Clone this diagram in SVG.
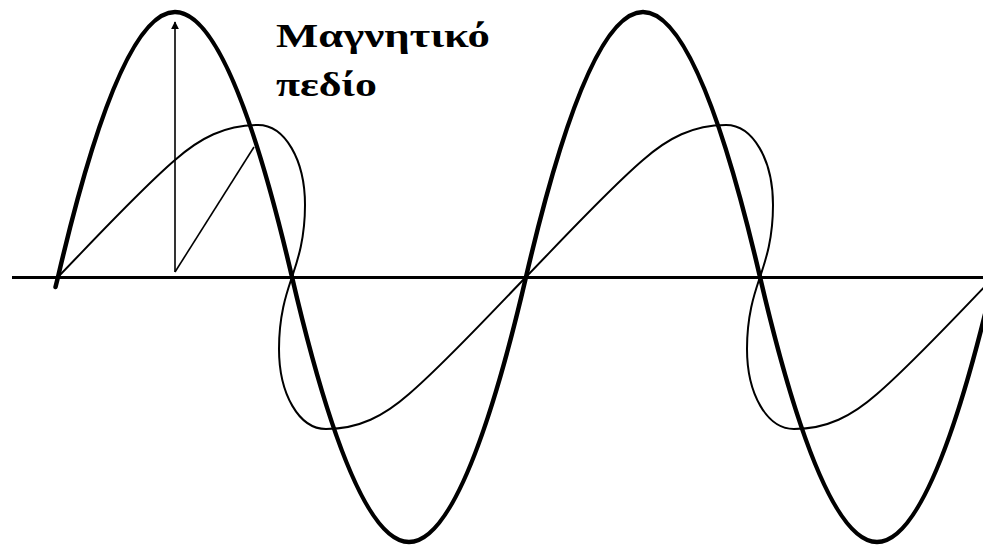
<svg xmlns="http://www.w3.org/2000/svg" width="983" height="554" viewBox="0 0 983 554">
  <style>
    .axis { stroke: #000; stroke-width: 3; fill: none; }
    .thick { stroke: #000; stroke-width: 4.5; fill: none; stroke-linecap: round; stroke-linejoin: round; }
    .thin { stroke: #000; stroke-width: 2; fill: none; stroke-linecap: round; stroke-linejoin: round; }
    .fine { stroke: #000; stroke-width: 1.6; fill: none; }
    .label { font-family: "Liberation Serif", "Times New Roman", serif; font-weight: bold; font-size: 34px; fill: #000; }
  </style>
  <defs>
    <marker id="head" viewBox="0 0 10 10" refX="9" refY="5" markerWidth="5" markerHeight="5" orient="auto" markerUnits="strokeWidth">
      <path d="M0,0 L10,5 L0,10 z" fill="#000"/>
    </marker>
  </defs>
  <rect width="983" height="554" fill="#fff"/>
  <g id="axis">
    <line class="axis" x1="12" y1="277.5" x2="983" y2="277.5"/>
  </g>
  <g id="electric-wave">
    <path class="thick" d="M55.5,287 L58,277 C93,127 133,12 175,12 C217,12 257,127 292,277 C327,427 367,542 409,542 C451,542 491,427 526,277 C561,127 601,12 643,12 C685,12 725,127 760,277 C795,427 835,542 877,542 C919,542 959,427 994,277"/>
  </g>
  <g id="magnetic-wave">
    <path class="thin" d="M58,277 C92,242 140,190 175,160 C200,138 225,125 258,125 C285,125 305,160 305,205 C305,240 297,262 292,277 C287,292 279,314 279,349 C279,394 299,429 326,429 C359,429 384,416 409,394 C444,364 492,312 526,277 C560,242 608,190 643,160 C668,138 693,125 726,125 C753,125 773,160 773,205 C773,240 765,262 760,277 C755,292 747,314 747,349 C747,394 767,429 794,429 C827,429 852,416 877,394 C912,364 960,312 994,277"/>
  </g>
  <g id="vectors">
    <line class="fine" x1="175" y1="272" x2="175" y2="22" marker-end="url(#head)"/>
    <line class="fine" x1="175" y1="272" x2="254" y2="147"/>
  </g>
  <g id="label">
    <text class="label" x="276" y="47" textLength="214" lengthAdjust="spacingAndGlyphs">Μαγνητικό</text>
    <text class="label" x="276" y="96" textLength="101" lengthAdjust="spacingAndGlyphs">πεδίο</text>
  </g>
</svg>
